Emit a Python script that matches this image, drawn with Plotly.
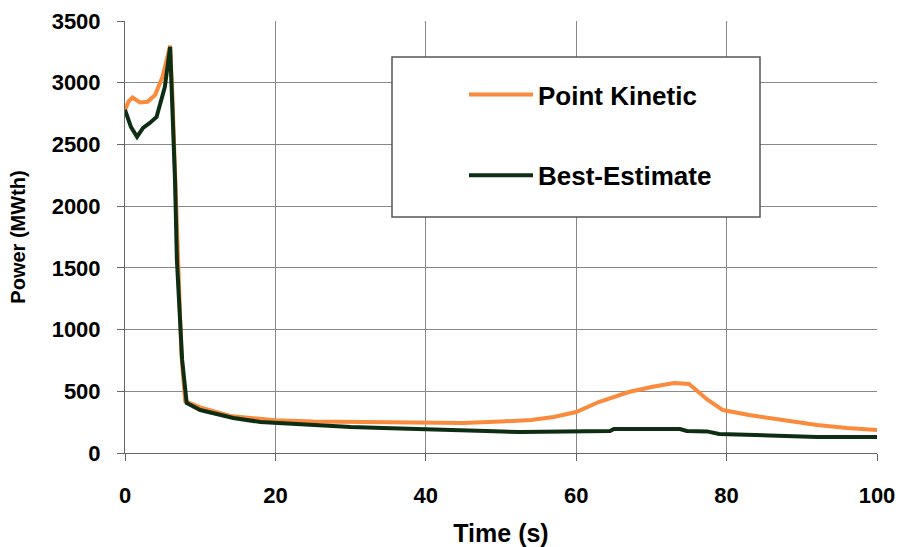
import plotly.graph_objects as go

# Point Kinetic (orange)
t_pk = [0, 0.5, 1, 2, 3, 4, 5, 5.5, 6, 6.3, 6.7, 7, 7.5, 8, 10, 14, 18, 20, 25, 30, 35, 40,
        45, 50, 54, 57, 60, 63, 67, 70, 73, 75, 77.5, 79.5, 83, 87.5, 92, 96, 100]
p_pk = [2780, 2850, 2880, 2840, 2845, 2900, 3050, 3180, 3300, 2900, 2200, 1550, 800, 420, 370,
        300, 280, 265, 255, 250, 250, 243, 243, 255, 267, 292, 332, 413, 494, 535, 567, 559,
        430, 348, 308, 267, 227, 203, 186]

# Best-Estimate (dark green)
t_be = [0, 0.8, 1.6, 2.4, 3.3, 4.2, 5.3, 6, 6.65, 6.9, 7.6, 8.2, 10, 14.4, 18, 20, 23, 27.7,
        30, 34.3, 41, 48, 52.5, 64.5, 65, 73.8, 74.7, 77.4, 79, 83.5, 92, 100]
p_be = [2780, 2640, 2561, 2634, 2674, 2723, 2966, 3290, 2212, 1564, 754, 405, 348, 284, 251,
        243, 235, 219, 211, 203, 194, 178, 170, 178, 194, 194, 178, 175, 154, 146, 130, 130]

x_ticks = [0, 20, 40, 60, 80, 100]
y_ticks = [0, 500, 1000, 1500, 2000, 2500, 3000, 3500]

ORANGE = "#FA8A3C"
GREEN = "#0E2E14"
FONT = "Liberation Sans, Arial, sans-serif"

fig = go.Figure()
fig.add_trace(go.Scatter(x=t_pk, y=p_pk, mode="lines", name="Point Kinetic",
                         line=dict(color=ORANGE, width=4), legendgroup="a"))
fig.add_trace(go.Scatter(x=t_be, y=p_be, mode="lines", name="Best-Estimate",
                         line=dict(color=GREEN, width=4), legendgroup="b"))

# legend frame
fig.add_shape(type="rect", xref="paper", yref="paper",
              x0=(392 - 125) / 752, x1=(760 - 125) / 752,
              y0=(453 - 217) / 432, y1=(453 - 57) / 432,
              line=dict(color="#555555", width=1.5), fillcolor="white", layer="above")

fig.update_layout(
    width=902, height=547,
    margin=dict(l=125, r=25, t=21, b=94, autoexpand=False),
    paper_bgcolor="white", plot_bgcolor="white",
    font=dict(family=FONT, color="black"),
    showlegend=True,
    legend=dict(x=(464 - 125) / 752, y=(453 - 71) / 432, xanchor="left", yanchor="top",
                bgcolor="rgba(0,0,0,0)", borderwidth=0,
                font=dict(size=26, family=FONT, weight="bold"),
                itemwidth=64, tracegroupgap=44, traceorder="grouped"),
    xaxis=dict(range=[0, 100], tickvals=x_ticks, ticks="outside", ticklen=7,
               tickcolor="#666666", showgrid=True, gridcolor="#888888", gridwidth=1,
               showline=True, linecolor="#666666", linewidth=1, zeroline=False,
               ticklabelstandoff=16, automargin=False,
               tickfont=dict(size=22, family=FONT, weight="bold"),
               title=dict(text="<b>Time (s)</b>", standoff=18,
                          font=dict(size=25, family=FONT))),
    yaxis=dict(range=[0, 3500], tickvals=y_ticks, ticks="outside", ticklen=7,
               tickcolor="#666666", showgrid=True, gridcolor="#888888", gridwidth=1,
               showline=True, linecolor="#666666", linewidth=1, zeroline=False,
               ticklabelstandoff=12, automargin=False,
               tickfont=dict(size=22, family=FONT, weight="bold"),
               title=dict(text="<b>Power (MWth)</b>", standoff=20,
                          font=dict(size=20, family=FONT))),
)

fig.write_html("out.html")
